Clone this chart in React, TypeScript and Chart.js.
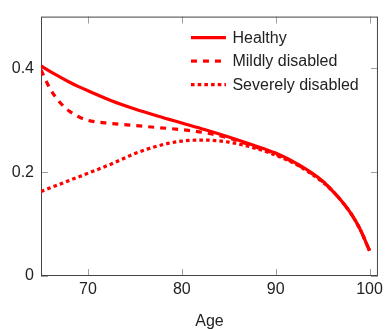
import React, { useEffect, useRef } from "react";
import { Chart, registerables } from "chart.js";

Chart.register(...registerables);

const ages = [65, 66, 67, 68, 69, 70, 72.5, 75, 77.5, 80, 82.5, 85, 87.5, 90, 92.5, 95, 96, 97, 98, 99, 100];
const healthy = [0.405, 0.394, 0.384, 0.374, 0.365, 0.357, 0.338, 0.322, 0.308, 0.295, 0.282, 0.268, 0.253, 0.237, 0.214, 0.183, 0.165, 0.145, 0.121, 0.09, 0.049];
const mildly = [0.397, 0.36, 0.335, 0.318, 0.307, 0.3, 0.294, 0.29, 0.286, 0.282, 0.276, 0.266, 0.251, 0.235, 0.213, 0.182, 0.165, 0.145, 0.121, 0.09, 0.049];
const severely = [0.163, 0.17, 0.177, 0.184, 0.191, 0.198, 0.216, 0.236, 0.251, 0.26, 0.262, 0.258, 0.248, 0.233, 0.212, 0.181, 0.165, 0.145, 0.121, 0.09, 0.049];
const seriesLabels = ["Healthy", "Mildly disabled", "Severely disabled"];
const xTicks = [70, 80, 90, 100];
const yTicks = [0, 0.2, 0.4];
const xTitle = "Age";

const FONT = "'Liberation Sans', Arial, sans-serif";
const RED = "#ff0000";
const dashes: number[][] = [[], [6, 6], [3.6, 3.1]];

const framePlugin = {
  id: "pgfFrame",
  beforeDatasetsDraw(chart: any) {
    const { ctx, chartArea: a, scales } = chart;
    ctx.save();
    ctx.lineWidth = 1;
    ctx.strokeStyle = "#a0a0a0";
    const len = 7;
    ctx.beginPath();
    for (const v of xTicks) {
      const px = Math.round(scales.x.getPixelForValue(v)) + 0.5;
      ctx.moveTo(px, a.bottom);
      ctx.lineTo(px, a.bottom - len);
      ctx.moveTo(px, a.top);
      ctx.lineTo(px, a.top + len);
    }
    for (const v of yTicks) {
      const py = Math.round(scales.y.getPixelForValue(v)) + 0.5;
      ctx.moveTo(a.left, py);
      ctx.lineTo(a.left + len, py);
      ctx.moveTo(a.right, py);
      ctx.lineTo(a.right - len, py);
    }
    ctx.stroke();
    ctx.strokeStyle = "#444444";
    ctx.strokeRect(a.left + 0.5, a.top + 0.5, a.right - a.left - 1, a.bottom - a.top - 1);
    ctx.restore();
  },
  afterDraw(chart: any) {
    const { ctx, chartArea: a } = chart;
    ctx.save();
    const x0 = a.right - 187;
    const x1 = x0 + 35;
    chart.data.datasets.forEach((ds: any, i: number) => {
      const y = a.top + 21 + i * 23.5;
      ctx.strokeStyle = ds.borderColor;
      ctx.lineWidth = ds.borderWidth;
      ctx.lineCap = "butt";
      ctx.setLineDash(ds.borderDash || []);
      ctx.beginPath();
      ctx.moveTo(x0, y);
      ctx.lineTo(x1, y);
      ctx.stroke();
      ctx.setLineDash([]);
      ctx.fillStyle = "#222222";
      ctx.font = `16px ${FONT}`;
      ctx.textBaseline = "middle";
      ctx.textAlign = "left";
      ctx.fillText(ds.label, x1 + 6.5, y + 0.5);
    });
    ctx.restore();
  },
};

export default function App() {
  const ref = useRef<HTMLCanvasElement>(null);

  useEffect(() => {
    if (!ref.current) return;
    const series = [healthy, mildly, severely];
    const chart = new Chart(ref.current, {
      type: "line",
      data: {
        datasets: series.map((vals, i) => ({
          label: seriesLabels[i],
          data: ages.map((x, j) => ({ x, y: vals[j] })),
          borderColor: RED,
          backgroundColor: RED,
          borderWidth: 3.2,
          borderDash: dashes[i],
          borderCapStyle: "butt",
          pointRadius: 0,
          fill: false,
          cubicInterpolationMode: "monotone",
        })),
      },
      options: {
        responsive: false,
        animation: false,
        layout: { padding: { top: 10, right: 6, left: 0, bottom: 0 } },
        plugins: {
          legend: { display: false },
          tooltip: { enabled: false },
          title: { display: false },
        },
        scales: {
          x: {
            type: "linear",
            min: 65,
            max: 100.9,
            grid: { display: false, drawTicks: false },
            border: { display: false },
            afterBuildTicks: (s: any) => {
              s.ticks = xTicks.map((v) => ({ value: v }));
            },
            afterFit: (s: any) => {
              s.height = 53;
            },
            ticks: {
              autoSkip: false,
              maxRotation: 0,
              padding: 4,
              color: "#222222",
              font: { family: FONT, size: 16 },
              callback: (v: any) => String(v),
            },
            title: {
              display: true,
              text: xTitle,
              color: "#222222",
              font: { family: FONT, size: 16 },
              padding: { top: 0, bottom: -2 },
            },
          },
          y: {
            type: "linear",
            min: 0,
            max: 0.5,
            grid: { display: false, drawTicks: false },
            border: { display: false },
            afterBuildTicks: (s: any) => {
              s.ticks = yTicks.map((v) => ({ value: v }));
            },
            afterFit: (s: any) => {
              s.width = 41;
            },
            ticks: {
              padding: 7,
              color: "#222222",
              font: { family: FONT, size: 16 },
              callback: (v: any) => (v === 0 ? "0" : String(Math.round(v * 10) / 10)),
            },
          },
        },
      },
      plugins: [framePlugin],
    } as any);
    return () => chart.destroy();
  }, []);

  return (
    <div style={{ position: "fixed", left: 0, top: 0, width: 387, height: 329, background: "#fff" }}>
      <canvas ref={ref} width={387} height={329} style={{ display: "block" }} />
    </div>
  );
}
